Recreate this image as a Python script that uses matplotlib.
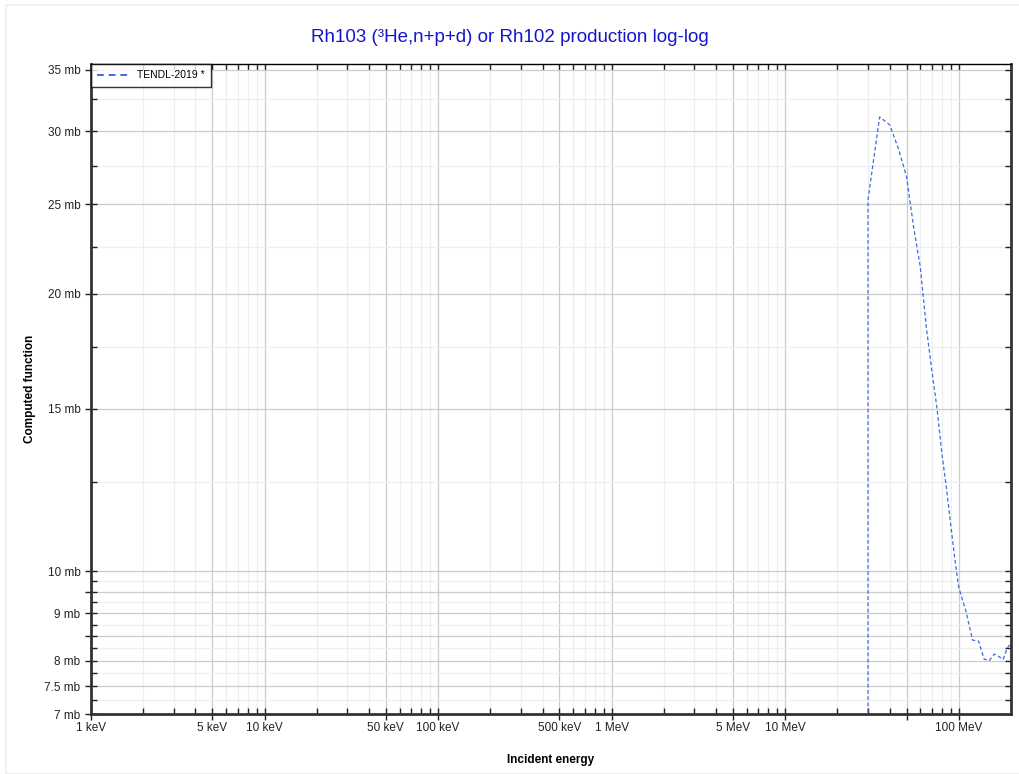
import matplotlib.pyplot as plt
import matplotlib.lines as mlines
import numpy as np
from matplotlib.ticker import FixedLocator, NullFormatter, FixedFormatter
from matplotlib.patches import Rectangle

plt.rcParams['font.family'] = ['Liberation Sans', 'DejaVu Sans']

# TENDL-2019 curve, energy in MeV, cross section in mb
energy = [0.001, 29.99, 30, 35, 40, 45, 50, 55, 60, 65, 70, 75, 80, 85, 90, 95, 100,
          110, 120, 130, 140, 150, 160, 170, 180, 190, 200]
xs = [0.001, 0.001, 25.3, 31.1, 30.5, 28.7, 26.8, 23.6, 21.4, 18.4, 16.5, 15.0, 13.4,
      12.3, 11.2, 10.3, 9.6, 9.05, 8.42, 8.40, 8.03, 8.0, 8.13, 8.08, 8.02, 8.25, 8.35]

x_major = [1e-3, 5e-3, 1e-2, 5e-2, 0.1, 0.5, 1, 5, 10, 50, 100]
x_labels = ['1 keV', '5 keV', '10 keV', '50 keV', '100 keV', '500 keV', '1 MeV',
            '5 MeV', '10 MeV', '', '100 MeV']
y_major = [7, 7.5, 8, 8.5, 9, 9.5, 10, 15, 20, 25, 30, 35]
y_labels = ['7 mb', '7.5 mb', '8 mb', '', '9 mb', '', '10 mb', '15 mb', '20 mb',
            '25 mb', '30 mb', '35 mb']

fig = plt.figure(figsize=(10.2, 7.74), dpi=100)
fig.patches.append(Rectangle((6 / 1020, 0), 1 - 6 / 1020, 1 - 5 / 774, transform=fig.transFigure,
                             fill=False, edgecolor='#eeeeee', lw=1.2))
ax = fig.add_axes([91 / 1020, 60 / 774, 920 / 1020, 650 / 774])

ax.plot(energy, xs, color='#4169e1', ls=(0, (3, 2)), lw=0.9, label='TENDL-2019 *')
ax.set_xscale('log')
ax.set_yscale('log')
ax.set_xlim(1e-3, 200)
ax.set_ylim(7, 35.5)

# x ticks
x_minor = [m * 10.0 ** d for d in range(-3, 3) for m in (2, 3, 4, 6, 7, 8, 9)]
x_minor = [v for v in x_minor if v < 200]
ax.xaxis.set_major_locator(FixedLocator(x_major))
ax.xaxis.set_major_formatter(FixedFormatter(x_labels))
ax.xaxis.set_minor_locator(FixedLocator(x_minor))
ax.xaxis.set_minor_formatter(NullFormatter())

# y ticks
y_minor = list(np.arange(7.25, 10, 0.5)) + [12.5, 17.5, 22.5, 27.5, 32.5]
ax.yaxis.set_major_locator(FixedLocator(y_major))
ax.yaxis.set_major_formatter(FixedFormatter(y_labels))
ax.yaxis.set_minor_locator(FixedLocator(y_minor))
ax.yaxis.set_minor_formatter(NullFormatter())

ax.grid(which='major', color='#cccccc', lw=0.9)
ax.grid(which='minor', color='#eeeeee', lw=0.9)
ax.set_axisbelow(True)

ax.tick_params(which='major', direction='inout', length=8, width=1, labelsize=8.5,
               top=True, right=True, colors='#222222')
ax.tick_params(which='minor', direction='in', length=4, width=1, top=True, right=True,
               colors='#222222')
ax.tick_params(axis='x', which='major', pad=2)

# top and right major ticks point inward only
for t in ax.xaxis.get_major_ticks():
    t.tick2line.set_marker(mlines.TICKDOWN)
    t.tick2line.set_markersize(4)
for t in ax.yaxis.get_major_ticks():
    t.tick2line.set_marker(mlines.TICKLEFT)
    t.tick2line.set_markersize(4)

for s in ('left', 'bottom', 'right'):
    ax.spines[s].set_linewidth(2)
    ax.spines[s].set_color('#333333')
ax.spines['top'].set_linewidth(1)

ax.set_xlabel('Incident energy', fontsize=8.5, fontweight='bold', labelpad=14)
ax.set_ylabel('Computed function', fontsize=8.5, fontweight='bold', labelpad=6)
fig.suptitle('Rh103 (³He,n+p+d) or Rh102 production log-log', color='#1515cc',
             fontsize=13.5, y=0.963)

leg = ax.legend(loc='upper left', fontsize=7.5, frameon=True, fancybox=False,
                borderaxespad=0, handlelength=3, borderpad=0.6)
leg.get_frame().set_edgecolor('black')
leg.get_frame().set_linewidth(1)
leg.get_lines()[0].set_linewidth(1.4)
leg.get_lines()[0].set_linestyle((0, (3.5, 2.5)))

plt.savefig('out.png', dpi=100)
